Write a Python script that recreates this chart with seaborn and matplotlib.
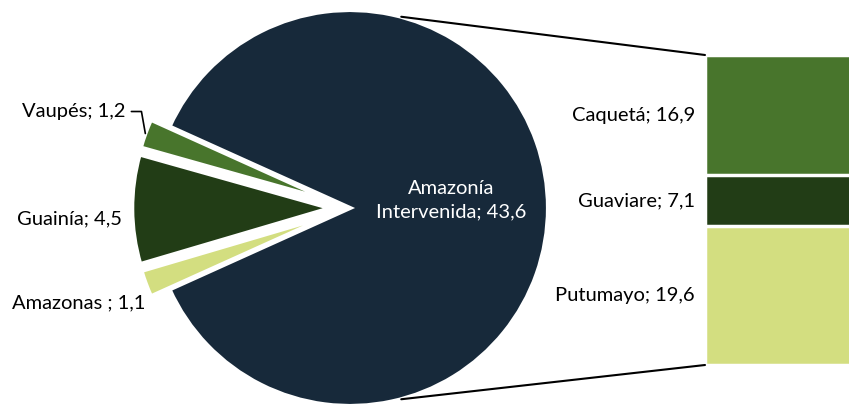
import numpy as np
import pandas as pd
import matplotlib
matplotlib.use("Agg")
import matplotlib.pyplot as plt
from matplotlib.patches import ConnectionPatch
import seaborn as sns

# data
pie_labels = ["Amazonía\nIntervenida", "Vaupés", "Guainía", "Amazonas "]
pie_values = [43.6, 1.2, 4.5, 1.1]
pie_colors = ["#17293A", "#48752C", "#223D16", "#D3DE80"]

bar_labels = ["Caquetá", "Guaviare", "Putumayo"]   # top to bottom
bar_values = [16.9, 7.1, 19.6]
bar_colors = ["#48752C", "#223D16", "#D3DE80"]

sns.set_theme(style="white")
plt.rcParams["font.family"] = ["Lato", "DejaVu Sans"]
plt.rcParams["text.color"] = "black"
FS = 14.5

def fmt(v):
    return f"{v:.1f}".replace(".", ",")

fig = plt.figure(figsize=(8.49, 4.07), dpi=100)

# pie part, axes in pixel units
ax = fig.add_axes([0, 0, 1, 1])
cx, cy, r = 350, 199, 198
navy_span = pie_values[0] / sum(pie_values) * 360
ex = 0.1 * r
wedges, _ = ax.pie(pie_values, colors=pie_colors, startangle=-navy_span / 2,
                   explode=[0, ex, ex, ex], center=(cx, cy), radius=r,
                   wedgeprops=dict(edgecolor="white", linewidth=3))
ax.set_xlim(0, 849)
ax.set_ylim(0, 407)
ax.set_aspect("equal")
ax.axis("off")

ax.text(cx + 0.51 * r, cy + 0.04 * r, f"{pie_labels[0]}; {fmt(pie_values[0])}",
        color="white", ha="center", va="center", fontsize=FS, linespacing=1.4)

offsets = [None, (-20, 22), (-10, -10), (0, -19)]
for w, lab, val, off in zip(wedges[1:], pie_labels[1:], pie_values[1:], offsets[1:]):
    ang = np.deg2rad((w.theta1 + w.theta2) / 2)
    px = cx + 1.1 * r * np.cos(ang)
    py = cy + 1.1 * r * np.sin(ang)
    if lab == "Vaupés":
        ax.annotate(f"{lab}; {fmt(val)}", xy=(px, py), xytext=off,
                    textcoords="offset pixels", ha="right", va="center", fontsize=FS,
                    arrowprops=dict(arrowstyle="-", color="black", lw=1.2,
                                    shrinkA=2, shrinkB=0,
                                    connectionstyle="angle,angleA=0,angleB=100,rad=0"))
    else:
        ax.annotate(f"{lab}; {fmt(val)}", xy=(px, py), xytext=off,
                    textcoords="offset pixels", ha="right", va="center", fontsize=FS)

# stacked bar part
total = sum(bar_values)
ax_bar = fig.add_axes([705 / 849, 42 / 407, 0.2, 310 / 407])
bottom_up = bar_values[::-1]
tops = np.cumsum(bottom_up)
colors_up = bar_colors[::-1]
for h, c in sorted(zip(tops, colors_up), reverse=True):
    df = pd.DataFrame({"g": ["s"], "v": [h]})
    sns.barplot(data=df, x="g", y="v", color=c, saturation=1, width=0.8,
                edgecolor="white", linewidth=2.5, ax=ax_bar)
ax_bar.set_xlim(-0.4, 0.4)
ax_bar.set_ylim(0, total)
ax_bar.axis("off")

bottoms = tops - np.array(bottom_up)
for lab, val, b, t in zip(bar_labels[::-1], bottom_up, bottoms, tops):
    ax_bar.annotate(f"{lab}; {fmt(val)}", xy=(0, (b + t) / 2),
                    xycoords=("axes fraction", "data"), xytext=(-10, 0),
                    textcoords="offset pixels", ha="right", va="center", fontsize=FS)

# connector lines
for sgn, yb in [(1, total), (-1, 0)]:
    a = np.deg2rad(75 * sgn)
    con = ConnectionPatch(xyA=(cx + r * np.cos(a), cy + r * np.sin(a)), coordsA=ax.transData,
                          xyB=(-0.4, yb), coordsB=ax_bar.transData,
                          color="black", lw=1.5)
    fig.add_artist(con)

fig.savefig("out.png", dpi=100)
